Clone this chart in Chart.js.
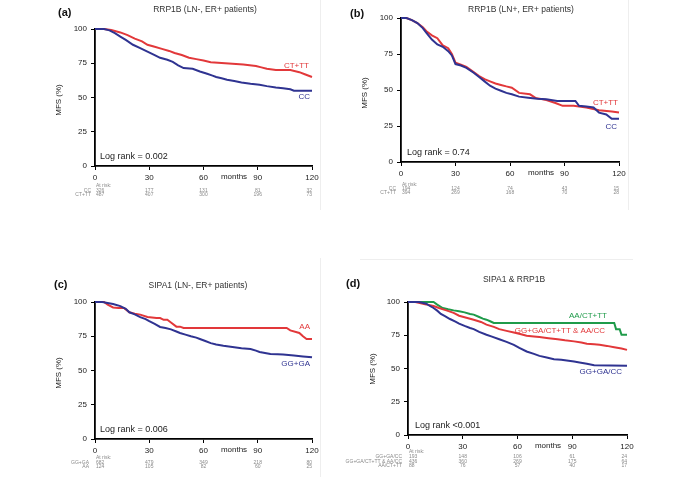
<!DOCTYPE html>
<html lang="en">
<head>
    <meta charset="UTF-8">
    <title>MFS Kaplan-Meier curves</title>
    <script src="https://cdn.jsdelivr.net/npm/chart.js"></script>
    <style>
        body {
            margin: 0;
            background: #fff;
        }
        .wrap {
            position: relative;
            width: 685px;
            height: 477px;
        }
        .wrap canvas {
            position: absolute;
            left: 0;
            top: 0;
        }
    </style>
</head>
<body>
<div class="wrap">
    <canvas id="chartA" width="685" height="477"></canvas>
    <canvas id="chartB" width="685" height="477"></canvas>
    <canvas id="chartC" width="685" height="477"></canvas>
    <canvas id="chartD" width="685" height="477"></canvas>
</div>

<script>
    // x axis ticks (months) and y axis ticks (MFS %)
    const monthTicks = [0, 30, 60, 90, 120];
    const mfsTicks = [0, 25, 50, 75, 100];

    // (a) RRP1B, LN-, ER+
    const aMonthsCC = [0, 5, 8, 11, 14, 17, 21, 25, 29, 33, 36, 40, 43, 46, 49, 54, 58, 62, 65, 67, 70, 73, 77, 81, 86, 91, 95, 100, 104, 108, 110, 120];
    const aMfsCC    = [100, 100, 99, 97, 94.5, 92, 88.5, 86, 83.5, 81, 79, 77.5, 76, 73.5, 71.5, 71, 69, 67.3, 66, 65, 64, 63, 62, 61, 60, 59.3, 58.3, 57.3, 56.8, 56, 55, 55];
    const aMonthsCT = [0, 5, 9, 14, 18, 22, 26, 29, 33, 37, 41, 44, 48, 52, 56, 60, 64, 70, 76, 82, 89, 92, 95, 100, 108, 113, 116, 120];
    const aMfsCT    = [100, 100, 99.3, 97.5, 95.5, 93, 91, 88.5, 87, 85.5, 84, 82.5, 81, 79, 78, 77, 75.8, 75.2, 74.6, 74, 73, 72, 71, 70, 70, 68.5, 67, 65];
    const aRiskCC = [326, 177, 131, 81, 32];
    const aRiskCT = [487, 407, 300, 196, 73];

    // (b) RRP1B, LN+, ER+
    const bMonthsCC = [0, 3, 6, 9, 12, 14, 17, 20, 23, 26, 28, 30, 33, 36, 40, 43, 46, 49, 52, 55, 58, 61, 65, 70, 75, 80, 86, 92, 96, 98, 102, 106, 109, 113, 116, 120];
    const bMfsCC    = [100, 100, 98.5, 96.5, 93, 89.6, 85, 81.6, 80, 77, 74, 68, 67, 65.4, 62, 59, 56, 53, 51, 49.5, 48, 47, 45.4, 44.7, 44, 43.5, 42.4, 42.4, 42.4, 39, 38.5, 37.8, 34.3, 33, 30, 30];
    const bMonthsCT = [0, 3, 6, 9, 12, 14, 17, 20, 23, 26, 28, 30, 33, 36, 40, 43, 46, 49, 52, 55, 58, 61, 65, 71, 74, 80, 85, 89, 95, 102, 109, 116, 120];
    const bMfsCT    = [100, 100, 98.5, 96.5, 93.5, 90.8, 88, 86, 81, 79, 75, 69, 67.5, 66, 62.5, 59.7, 57.5, 56, 54.5, 53.5, 52.5, 51.6, 48, 47, 44.5, 43, 41, 39, 39, 37.8, 36, 35, 34.3];
    const bRiskCC = [194, 124, 74, 43, 15];
    const bRiskCT = [394, 269, 168, 70, 28];

    // (c) SIPA1, LN-, ER+
    const cMonthsGG = [0, 4, 7, 10, 14, 17, 19, 22, 25, 28, 30, 33, 36, 39, 42, 45, 47, 50, 53, 56, 58, 61, 64, 67, 71, 74, 77, 81, 86, 89, 91, 94, 97, 101, 104, 110, 115, 120];
    const cMfsGG    = [100, 100, 99.3, 98.5, 97, 95, 92.5, 91, 89, 87.5, 86, 84, 81.8, 81, 80, 78.5, 77.4, 76.2, 75, 74, 73, 71.5, 70, 69, 68, 67.5, 67, 66.3, 65.7, 64.5, 63.5, 62.8, 62, 61.8, 61.6, 61, 60.3, 59.6];
    const cMonthsAA = [0, 5, 7, 10, 13, 16, 19, 22, 25, 29, 34, 36, 38, 40, 42, 45, 47, 49, 106, 108, 113, 115, 117, 120];
    const cMfsAA    = [100, 100, 98, 96, 95.6, 95.6, 92.5, 91.5, 90.8, 89, 88.3, 88.3, 87, 87, 85, 82, 82, 81, 81, 79.3, 77.4, 75, 73, 73];
    const cRiskGG = [682, 479, 349, 218, 80];
    const cRiskAA = [124, 105, 82, 60, 25];

    // (d) SIPA1 & RRP1B
    const dMonthsGreen = [0, 14, 16, 19, 22, 25, 28, 31, 34, 36, 39, 41, 43, 45, 47, 113, 114, 116, 117, 120];
    const dMfsGreen    = [100, 100, 98, 95.5, 94.5, 93.7, 93, 92.2, 91, 90.5, 88.7, 87.5, 86.7, 85.5, 84.2, 84.2, 79.6, 79.6, 75.4, 75.4];
    const dMonthsRed = [0, 4, 7, 10, 14, 17, 21, 25, 28, 32, 36, 40, 43, 47, 50, 54, 58, 62, 65, 69, 72, 77, 82, 86, 91, 95, 98, 102, 105, 109, 113, 117, 120];
    const dMfsRed    = [100, 100, 99, 98.2, 97, 95.5, 93.7, 91.8, 89.7, 88.2, 86.7, 85, 83, 81.3, 79.6, 78.3, 77, 75.8, 74.6, 74, 73.6, 72.8, 72, 71.2, 70.4, 69.5, 68.6, 68.2, 67.8, 67, 66, 65, 64];
    const dMonthsBlue = [0, 6, 10, 12, 14, 16, 18, 20, 23, 26, 28, 31, 34, 36, 39, 43, 46, 50, 54, 58, 61, 65, 69, 72, 76, 80, 84, 87, 91, 94, 98, 102, 120];
    const dMfsBlue    = [100, 100, 98.7, 97, 95.5, 93.5, 91, 89.5, 87.2, 85.2, 83.7, 82, 80.5, 79.6, 77.5, 75.4, 74, 72, 70, 67.8, 65.5, 62.8, 61, 59.5, 58.2, 57, 56.5, 56, 55.2, 54.5, 53.5, 52.5, 52];
    const dRiskBlue = [193, 148, 106, 61, 24];
    const dRiskRed = [436, 360, 269, 175, 64];
    const dRiskGreen = [88, 76, 57, 40, 17];

    const RED = '#e2383a';
    const BLUE = '#2f3391';
    const GREEN = '#1f9b4a';
    const FONT = '"Liberation Sans", Arial, sans-serif';

    const pts = (t, v) => t.map((m, i) => ({x: m, y: v[i]}));

    const decor = {
        id: 'decor',
        afterDraw(chart, args, o) {
            const ctx = chart.ctx;
            const xs = chart.scales.x;
            const area = chart.chartArea;
            ctx.save();

            // faint frame lines left in the scan
            ctx.strokeStyle = '#eeeeee';
            ctx.lineWidth = 1;
            (o.faint || []).forEach(l => {
                ctx.beginPath();
                ctx.moveTo(l[0], l[1]);
                ctx.lineTo(l[2], l[3]);
                ctx.stroke();
            });

            ctx.textBaseline = 'middle';
            ctx.fillStyle = '#111';
            ctx.textAlign = 'left';
            ctx.font = 'bold 11px ' + FONT;
            ctx.fillText(o.letter, o.letterPos[0], o.letterPos[1]);

            ctx.fillStyle = '#333';
            ctx.textAlign = 'center';
            ctx.font = '8.5px ' + FONT;
            ctx.fillText(o.title, o.titlePos[0], o.titlePos[1]);

            ctx.font = '8px ' + FONT;
            ctx.fillStyle = '#222';
            ctx.fillText('months', o.monthsX, area.bottom + 11);

            ctx.save();
            ctx.translate(o.yLabelPos[0], o.yLabelPos[1]);
            ctx.rotate(-Math.PI / 2);
            ctx.fillText('MFS (%)', 0, 0);
            ctx.restore();

            ctx.textAlign = 'left';
            ctx.font = '9px ' + FONT;
            ctx.fillStyle = '#222';
            ctx.fillText(o.logRank, area.left + o.logRankDx, area.bottom - 9);

            ctx.textAlign = 'right';
            ctx.font = '8px ' + FONT;
            o.labels.forEach(l => {
                ctx.fillStyle = l.color;
                ctx.fillText(l.text, l.x, l.y);
            });

            // numbers at risk
            ctx.fillStyle = '#8a8a8a';
            ctx.font = '5px ' + FONT;
            ctx.textAlign = 'left';
            ctx.fillText('At risk:', area.left + 1, o.riskY[0]);
            o.risk.forEach((row, r) => {
                const y = o.riskY[r + 1];
                ctx.textAlign = 'right';
                ctx.fillText(row.name, o.riskLabelX, y);
                row.values.forEach((v, i) => {
                    const px = xs.getPixelForValue(monthTicks[i]);
                    ctx.textAlign = i === 0 ? 'left' : (i === row.values.length - 1 ? 'right' : 'center');
                    ctx.fillText(String(v), i === 0 ? px + 1 : px, y);
                });
            });
            ctx.restore();
        }
    };

    function makePanel(id, box, datasets, deco) {
        const scaleCommon = {
            type: 'linear',
            grid: {display: true, drawOnChartArea: false, drawTicks: true, tickLength: 4, color: '#000', lineWidth: 1},
            border: {display: true, color: '#000', width: 1.8},
            ticks: {font: {family: FONT, size: 8}, color: '#222', padding: 3, autoSkip: false, maxRotation: 0}
        };
        return new Chart(document.getElementById(id), {
            type: 'line',
            data: {datasets: datasets},
            options: {
                responsive: false,
                animation: false,
                devicePixelRatio: 1,
                layout: {padding: {left: 0, top: box.top, right: 685 - box.right, bottom: 477 - box.bottom - 20}},
                elements: {point: {radius: 0}, line: {borderWidth: 2, tension: 0}},
                plugins: {legend: {display: false}, tooltip: {enabled: false}, decor: deco},
                scales: {
                    x: Object.assign({}, scaleCommon, {
                        min: 0, max: 120,
                        afterBuildTicks: s => { s.ticks = monthTicks.map(v => ({value: v})); },
                        afterFit: s => { s.height = 20; }
                    }),
                    y: Object.assign({}, scaleCommon, {
                        min: 0, max: 100,
                        ticks: Object.assign({}, scaleCommon.ticks, {padding: 4}),
                        afterBuildTicks: s => { s.ticks = mfsTicks.map(v => ({value: v})); },
                        afterFit: s => { s.width = box.left; }
                    })
                }
            },
            plugins: [decor]
        });
    }

    const ds = (t, v, color) => ({data: pts(t, v), borderColor: color, stepped: false, clip: false, fill: false});

    makePanel('chartA', {left: 95, right: 312, top: 29, bottom: 166},
        [ds(aMonthsCC, aMfsCC, BLUE), ds(aMonthsCT, aMfsCT, RED)],
        {
            letter: '(a)', letterPos: [58, 13],
            title: 'RRP1B (LN-, ER+ patients)', titlePos: [205, 10],
            yLabelPos: [59, 100], monthsX: 234,
            logRank: 'Log rank = 0.002', logRankDx: 5,
            labels: [{text: 'CT+TT', x: 309, y: 66, color: RED}, {text: 'CC', x: 310, y: 97, color: BLUE}],
            risk: [{name: 'CC', values: aRiskCC}, {name: 'CT+TT', values: aRiskCT}],
            riskY: [186, 190.5, 194.5], riskLabelX: 91,
            faint: [[320.5, 0, 320.5, 210]]
        });

    makePanel('chartB', {left: 401, right: 619, top: 18, bottom: 162},
        [ds(bMonthsCC, bMfsCC, BLUE), ds(bMonthsCT, bMfsCT, RED)],
        {
            letter: '(b)', letterPos: [350, 14],
            title: 'RRP1B (LN+, ER+ patients)', titlePos: [521, 10],
            yLabelPos: [365, 93], monthsX: 541,
            logRank: 'Log rank = 0.74', logRankDx: 6,
            labels: [{text: 'CT+TT', x: 618, y: 103, color: RED}, {text: 'CC', x: 617, y: 127, color: BLUE}],
            risk: [{name: 'CC', values: bRiskCC}, {name: 'CT+TT', values: bRiskCT}],
            riskY: [184.5, 189, 193], riskLabelX: 396,
            faint: [[628.5, 0, 628.5, 210]]
        });

    makePanel('chartC', {left: 95, right: 312, top: 302, bottom: 439},
        [ds(cMonthsGG, cMfsGG, BLUE), ds(cMonthsAA, cMfsAA, RED)],
        {
            letter: '(c)', letterPos: [54, 285],
            title: 'SIPA1 (LN-, ER+ patients)', titlePos: [198, 286],
            yLabelPos: [59, 373], monthsX: 234,
            logRank: 'Log rank = 0.006', logRankDx: 5,
            labels: [{text: 'AA', x: 310, y: 327, color: RED}, {text: 'GG+GA', x: 310, y: 364, color: BLUE}],
            risk: [{name: 'GG+GA', values: cRiskGG}, {name: 'AA', values: cRiskAA}],
            riskY: [458, 462.5, 466.5], riskLabelX: 89,
            faint: [[320.5, 258, 320.5, 477]]
        });

    makePanel('chartD', {left: 408, right: 627, top: 302, bottom: 435},
        [ds(dMonthsBlue, dMfsBlue, BLUE), ds(dMonthsRed, dMfsRed, RED), ds(dMonthsGreen, dMfsGreen, GREEN)],
        {
            letter: '(d)', letterPos: [346, 284],
            title: 'SIPA1 & RRP1B', titlePos: [514, 280],
            yLabelPos: [373, 369], monthsX: 548,
            logRank: 'Log rank <0.001', logRankDx: 7,
            labels: [
                {text: 'AA/CT+TT', x: 607, y: 316, color: GREEN},
                {text: 'GG+GA/CT+TT & AA/CC', x: 605, y: 331, color: RED},
                {text: 'GG+GA/CC', x: 622, y: 372, color: BLUE}
            ],
            risk: [
                {name: 'GG+GA/CC', values: dRiskBlue},
                {name: 'GG+GA/CT+TT & AA/CC', values: dRiskRed},
                {name: 'AA/CT+TT', values: dRiskGreen}
            ],
            riskY: [452, 457, 461.5, 466], riskLabelX: 402,
            faint: [[360, 259.5, 633, 259.5]]
        });
</script>
</body>
</html>
